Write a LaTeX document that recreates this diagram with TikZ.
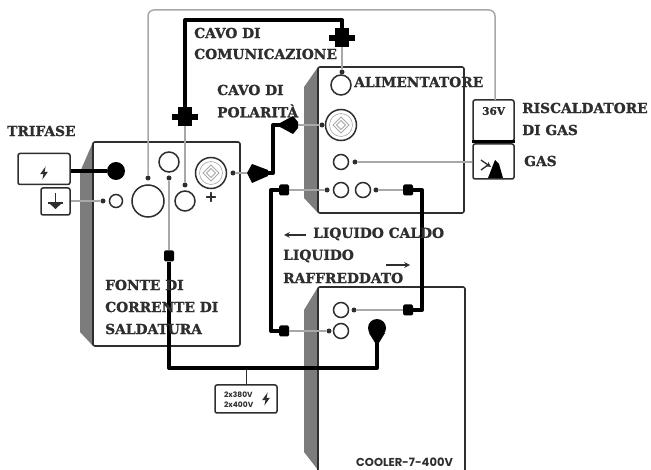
\documentclass[tikz,border=0pt]{standalone}
\usepackage{fontspec}
\setmainfont{DejaVu Serif}[BoldFeatures={FakeBold=1.2}]
\newfontfamily\capfont{Poppins}
\usetikzlibrary{shapes.geometric}
\definecolor{ink}{HTML}{2E2E2E}
\definecolor{wire}{HTML}{A8A8A8}
\definecolor{band}{HTML}{7C7C7C}
\tikzset{
  x=1pt,y=-1pt,
  lbl/.style={anchor=west,inner sep=0pt,text=ink,font=\bfseries\fontsize{13.8}{14}\selectfont},
  panel/.style={draw=ink,line width=1.6pt,rounded corners=2pt,fill=white},
  shade/.style={fill=band,draw=none},
  hole/.style={circle,draw=ink,line width=1.5pt,inner sep=0pt,fill=white},
  tip/.style={circle,fill=ink,inner sep=0pt,minimum size=5pt},
  sq/.style={rectangle,rounded corners=1.5pt,fill=black,inner sep=0pt,minimum width=10pt,minimum height=11pt},
  blob/.style={circle,fill=black,inner sep=0pt,minimum size=18pt},
  thin/.style={draw=wire,line width=1.5pt},
  thick/.style={draw=black,line width=4pt,line join=round},
  icon/.style={panel,line width=1.5pt},
  sock/.style={hole,minimum size=31pt},
}
\newcommand{\sockdetail}[2]{%
  \draw[wire,line width=.8pt] (#1-8,#2) -- (#1,#2-8) -- (#1+8,#2) -- (#1,#2+8) -- cycle;
  \draw[wire,line width=.8pt] (#1-4.5,#2) -- (#1,#2-4.5) -- (#1+4.5,#2) -- (#1,#2+4.5) -- cycle;
  \draw[wire,line width=.6pt] (#1,#2) circle (11.5);
}
\newcommand{\bolt}[3]{%
  \fill[ink,shift={(#1,#2)},scale=#3] (1.5,-6) -- (-3.5,1) -- (-.5,1) -- (-1.5,6) -- (3.5,-1) -- (.5,-1) -- cycle;
}
\newcommand{\plug}[2]{%
  \fill[black] (#1-7,#2-9.5) rectangle (#1+7,#2-3);
  \fill[black] (#1-13,#2-3) rectangle (#1+13,#2+3);
  \fill[black] (#1-7,#2+3) rectangle (#1+7,#2+9);
}
\begin{document}
\begin{tikzpicture}
\useasboundingbox (0,0) rectangle (651,470);
% shaded sides
\fill[shade] (93,142) -- (80,172) -- (80,332) -- (93,346) -- cycle;
\fill[shade] (318,67) -- (304,87) -- (304,198) -- (318,213) -- cycle;
\fill[shade] (318,287) -- (304,310) -- (304,452) -- (318,470) -- cycle;
% boxes
\node[panel,minimum width=147pt,minimum height=204pt,inner sep=0pt] (src) at (166.5,244) {};
\node[panel,minimum width=146pt,minimum height=146pt,inner sep=0pt] (feed) at (391,140) {};
\draw[panel] (318,475) -- (318,287) -- (465,287) -- (465,475);
% holes in source
\node[hole,minimum size=32pt] (hbig) at (148,201) {};
\node[hole,minimum size=20pt] (htop) at (169,162) {};
\node[hole,minimum size=20pt] (hcom) at (185,201) {};
\node[hole,minimum size=13pt] (hgnd) at (116,201) {};
\node[sock] (ssrc) at (211,173) {}; \sockdetail{211}{173}
\node[blob] (bsrc) at (116,171) {};
\node[font=\bfseries\fontsize{15}{15}\selectfont,text=ink,inner sep=0pt] (plus) at (211,197) {+};
% holes in feeder
\node[hole,minimum size=20pt] (hcomf) at (341,85) {};
\node[sock] (sfeed) at (341,125) {}; \sockdetail{341}{125}
\node[hole,minimum size=15pt] (hgas) at (341,162) {};
\node[hole,minimum size=15pt] (hl1) at (341,190) {};
\node[hole,minimum size=15pt] (hl2) at (363,190) {};
% holes in cooler
\node[hole,minimum size=15pt] (hc1) at (341,310) {};
\node[hole,minimum size=15pt] (hc2) at (341,331) {};
\node[blob] (bcool) at (377,328) {};
% input boxes
\node[icon,minimum width=52pt,minimum height=31pt,inner sep=0pt] (tri) at (44,169) {};
\node[icon,minimum width=29pt,minimum height=27pt,inner sep=0pt] (gnd) at (55.5,201.5) {};
\node[icon,minimum width=41pt,minimum height=41pt,inner sep=0pt] (heat) at (493.5,120.5) {};
\node[icon,minimum width=41pt,minimum height=35pt,inner sep=0pt] (gasb) at (493.5,161.5) {};
\node[icon,minimum width=62pt,minimum height=28pt,inner sep=0pt] (mains) at (246,399) {};
\draw[black,line width=2.5pt] (heat.south west) -- (heat.south east);
% tips
\node[tip] (t1) at (148,178) {};
\node[tip] (t2) at (169,178) {};
\node[tip] (t3) at (185,185) {};
\node[tip] (t4) at (103,201) {};
\node[tip] (t5) at (233,173) {};
\node[tip] (t6) at (342,72) {};
\node[tip] (t7) at (322,125) {};
\node[tip] (t8) at (355,162) {};
\node[tip] (t9) at (327,190) {};
\node[tip] (t10) at (376,190) {};
\node[tip] (t11) at (354,310) {};
\node[tip] (t12) at (329,331) {};
% connectors: thin
\coordinate (pc1) at (342,38);
\coordinate (pc2) at (185,117);
\coordinate (pp1) at (247,173);
\coordinate (pp2) at (282,125);
\coordinate (mt) at (246,368);
\node[sq] (q0) at (169,256) {};
\node[sq] (q1) at (284,190) {};
\node[sq] (q2) at (284,331) {};
\node[sq] (q3) at (408,190) {};
\node[sq] (q4) at (408,310) {};
\draw[thin,rounded corners=6pt] (t1) -- (148,10) -- (495,10) -- (495,100);
\draw[thin] (gnd.east |- t4) -- (t4);
\draw[thin] (q0) -- (t2);
\draw[thin] (pc2) -- (t3);
\draw[thin] (pc1) -- (t6);
\draw[thin] (t5) -- (pp1);
\draw[thin] (pp2) -- (t7);
\draw[thin] (gasb.west |- t8) -- (t8);
\draw[thin] (q1) -- (t9);
\draw[thin] (q3) -- (t10);
\draw[thin] (q4) -- (t11);
\draw[thin] (q2) -- (t12);
\draw[draw=ink,line width=1pt] (mt) -- (mains.north);
% connectors: thick
\draw[thick] (tri.east |- bsrc) -- (bsrc);
\draw[thick] (pc2) -- (185,20) -- (342,20) -- (pc1);
\draw[thick] (262,173) -- (273,173) -- (273,125) -- (pp2);
\draw[thick] (q1) -- (271,190) -- (271,331) -- (q2);
\draw[thick] (q3) -- (422,190) -- (422,310) -- (q4);
\draw[thick] (q0) -- (169,368) -- (377,368) -- (bcool);
\fill[black] (377,346) -- (369,333) -- (385,333) -- cycle;
% plugs
\plug{342}{38}
\plug{185}{117}
\fill[black] (pp1) -- (252,164) -- (268,170) -- (268,176) -- (252,183) -- cycle;
\fill[black] (280,123) -- (293,116) -- (298,122) -- (298,128) -- (293,134) -- (280,127) -- cycle;
% icons
\bolt{44}{173}{1.1}
\draw[ink,line width=1.5pt] (55.5,193) -- (55.5,206);
\draw[ink,line width=1.8pt] (48,203) -- (63,203);
\fill[ink] (49,203) -- (62,203) -- (55.5,209) -- cycle;
\bolt{266}{399}{1.1}
\draw[ink,line width=1.3pt,-stealth] (481,160) -- (491,167);
\draw[ink,line width=1.3pt] (481,170) -- (488,165);
\fill[black] (488,178) -- (495,160) -- (499,164) -- (503,178) -- cycle;
% text arrows
\coordinate (a1s) at (306,235); \coordinate (a1e) at (284,235);
\coordinate (a2s) at (386,265); \coordinate (a2e) at (410,265);
\draw[ink,line width=1.5pt,-stealth] (a1s) -- (a1e);
\draw[ink,line width=1.5pt,-stealth] (a2s) -- (a2e);
% labels
\node[lbl] (l1) at (7,131) {TRIFASE};
\node[lbl] (l2a) at (194,33) {CAVO DI};
\node[lbl] (l2b) at (194,54) {COMUNICAZIONE};
\node[lbl] (l3a) at (217,90) {CAVO DI};
\node[lbl] (l3b) at (217,111) {POLARITÀ};
\node[lbl] (l4) at (354,82) {ALIMENTATORE};
\node[lbl] (l5a) at (522,108) {RISCALDATORE};
\node[lbl] (l5b) at (522,130) {DI GAS};
\node[lbl] (l6) at (524,161) {GAS};
\node[lbl] (l7) at (313,234) {LIQUIDO CALDO};
\node[lbl] (l8a) at (283,256) {LIQUIDO};
\node[lbl] (l8b) at (283,278) {RAFFREDDATO};
\node[lbl] (l9a) at (105,285) {FONTE DI};
\node[lbl] (l9b) at (105,307) {CORRENTE DI};
\node[lbl] (l9c) at (105,329) {SALDATURA};
\node[lbl,font=\bfseries\fontsize{10.5}{10.5}\selectfont] (l10) at (482,111) {36V};
\node[lbl,font=\capfont\bfseries\fontsize{7.5}{7.5}\selectfont] (l11) at (224,395) {2x380V};
\node[lbl,font=\capfont\bfseries\fontsize{7.5}{7.5}\selectfont] (l12) at (224,405) {2x400V};
\node[lbl,font=\capfont\bfseries\fontsize{11.5}{11.5}\selectfont] (l13) at (356,462) {COOLER-7-400V};
\end{tikzpicture}
\end{document}
